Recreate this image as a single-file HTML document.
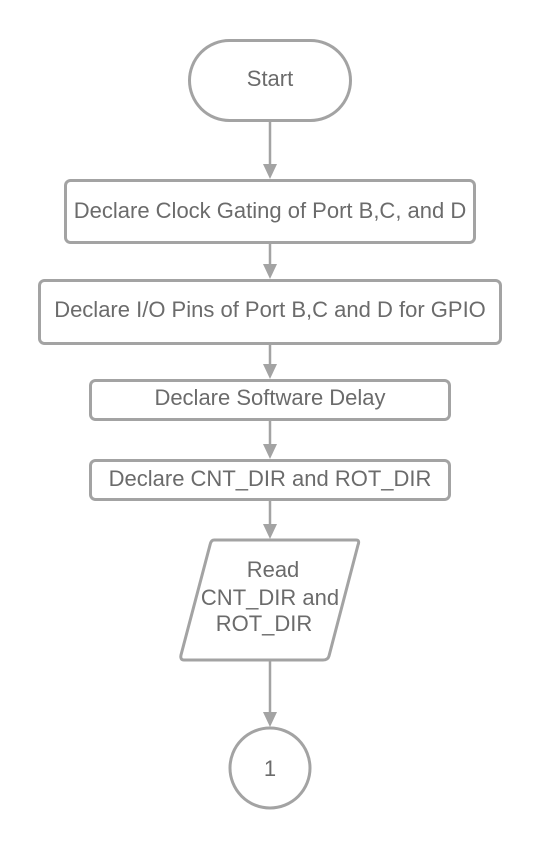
<!DOCTYPE html>
<html><head><style>
html,body{margin:0;padding:0;background:#fff;}
svg text{font-family:"Liberation Sans",Arial,sans-serif;fill:#6b6b6b;font-size:22px;text-anchor:middle;}
</style></head><body>
<svg width="540" height="849" viewBox="0 0 540 849" xmlns="http://www.w3.org/2000/svg">
<g fill="#fff" stroke="#a3a3a3" stroke-width="3">
<rect x="189.5" y="40.5" width="161" height="80" rx="40"/>
<rect x="65.5" y="180.5" width="409" height="62" rx="5"/>
<rect x="39.5" y="280.5" width="461" height="63" rx="5"/>
<rect x="90.5" y="380.5" width="359" height="39" rx="5"/>
<rect x="90.5" y="460.5" width="359" height="39" rx="5"/>
<path d="M214,540 L356,540 Q360,540 358,545 L329,656 Q328,660 323,660 L184,660 Q180,660 181,655 L210,545 Q211,540 214,540 Z"/>
<circle cx="270" cy="768" r="40"/>
</g>
<g stroke="#a3a3a3" stroke-width="2.5">
<line x1="270" y1="122" x2="270" y2="166"/>
<line x1="270" y1="244" x2="270" y2="266"/>
<line x1="270" y1="345" x2="270" y2="366"/>
<line x1="270" y1="421" x2="270" y2="446"/>
<line x1="270" y1="501" x2="270" y2="526"/>
<line x1="270" y1="661" x2="270" y2="714"/>
</g>
<g fill="#a3a3a3">
<path d="M263,164 L277,164 L270,179 Z"/>
<path d="M263,264 L277,264 L270,279 Z"/>
<path d="M263,364 L277,364 L270,379 Z"/>
<path d="M263,444 L277,444 L270,459 Z"/>
<path d="M263,524 L277,524 L270,539 Z"/>
<path d="M263,712 L277,712 L270,727 Z"/>
</g>
<text x="270" y="86">Start</text>
<text x="270" y="218">Declare Clock Gating of Port B,C, and D</text>
<text x="270" y="317">Declare I/O Pins of Port B,C and D for GPIO</text>
<text x="270" y="405">Declare Software Delay</text>
<text x="270" y="486">Declare CNT_DIR and ROT_DIR</text>
<text x="273" y="577">Read</text>
<text x="270" y="605">CNT_DIR and</text>
<text x="264" y="631">ROT_DIR</text>
<text x="270" y="776">1</text>
</svg>
</body></html>
